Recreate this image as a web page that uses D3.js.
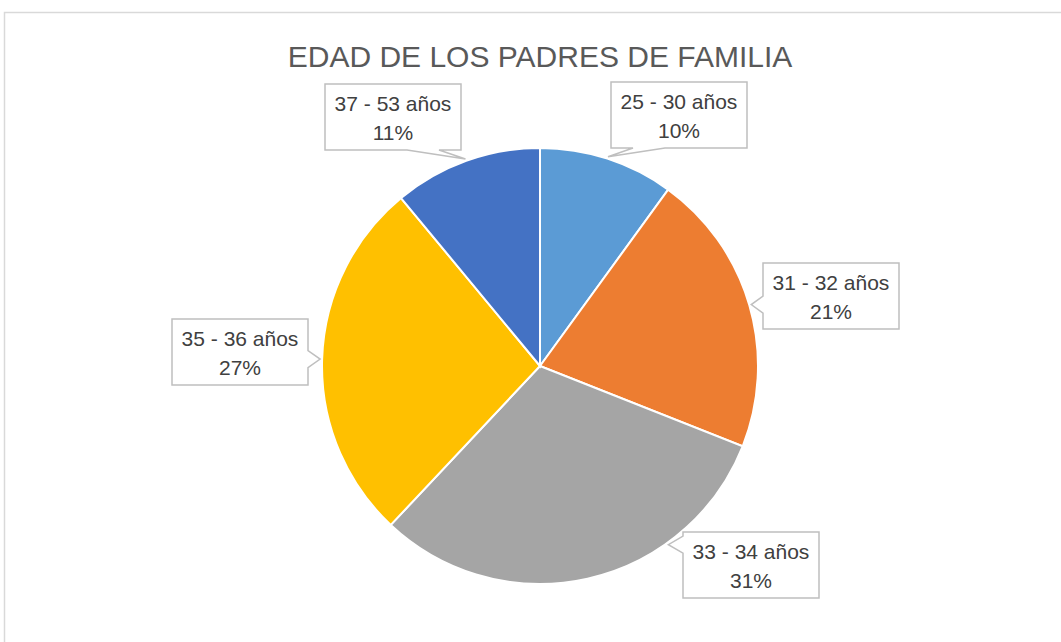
<!DOCTYPE html>
<html>
<head>
<meta charset="utf-8">
<script src="https://cdn.jsdelivr.net/npm/d3@7"></script>
<style>
  body { margin: 0; background: #fff; }
  svg { display: block; font-family: "Liberation Sans", Arial, sans-serif; }
</style>
</head>
<body>
<script>
const title = 'EDAD DE LOS PADRES DE FAMILIA';
const categories = ['25 - 30 años', '31 - 32 años', '33 - 34 años', '35 - 36 años', '37 - 53 años'];
const values = [10, 21, 31, 27, 11];
const colors = ['#5b9bd5', '#ed7d31', '#a5a5a5', '#ffc000', '#4472c4'];

// callout box centres (layout only)
const labelBoxes = [[679, 115], [831, 296], [751, 565], [240, 352], [393, 117]];

document.addEventListener('DOMContentLoaded', () => {
    const width = 1061;
    const height = 642;
    const cx = 540;
    const cy = 366;
    const radius = 218;
    const boxW = 136;
    const boxH = 66;

    const svg = d3.select('body')
                  .append('svg')
                  .attr('width', width)
                  .attr('height', height);

    // chart area border
    svg.append('rect')
       .attr('x', 4.5)
       .attr('y', 12.5)
       .attr('width', width + 20)
       .attr('height', height + 20)
       .attr('fill', 'none')
       .attr('stroke', '#d9d9d9')
       .attr('stroke-width', 1.5);

    svg.append('text')
       .attr('x', cx)
       .attr('y', 67)
       .attr('text-anchor', 'middle')
       .attr('font-size', 30)
       .attr('fill', '#595959')
       .text(title);

    const data = categories.map((c, i) => ({ cat: c, value: values[i], color: colors[i] }));
    const total = d3.sum(values);

    const pie = d3.pie().sort(null).value(d => d.value);
    const arc = d3.arc().innerRadius(0).outerRadius(radius);
    const arcs = pie(data);

    const g = svg.append('g').attr('transform', `translate(${cx},${cy})`);

    g.selectAll('path')
     .data(arcs)
     .enter()
     .append('path')
     .attr('d', arc)
     .attr('fill', d => d.data.color)
     .attr('stroke', '#fff')
     .attr('stroke-width', 2);

    // callout labels
    arcs.forEach((a, i) => {
        const [bx, by] = labelBoxes[i];
        const left = bx - boxW / 2, right = bx + boxW / 2;
        const top = by - boxH / 2, bottom = by + boxH / 2;

        const mid = (a.startAngle + a.endAngle) / 2;
        let [tx, ty] = d3.pointRadial(mid, radius + 2);
        tx += cx; ty += cy;

        // if the mid point is far from the box, aim at the nearest box edge instead
        const gap = Math.max(left - tx, tx - right, top - ty, ty - bottom);
        if (gap > 60) {
            let ex = bx, ey = by;
            if (tx < left) ex = left; else if (tx > right) ex = right;
            else if (ty < top) ey = top; else ey = bottom;
            const ang = Math.atan2(ex - cx, -(ey - cy));
            [tx, ty] = d3.pointRadial(ang, radius + 2);
            tx += cx; ty += cy;
        }

        const gaps = { left: left - tx, right: tx - right, top: top - ty, bottom: ty - bottom };
        const side = Object.keys(gaps).reduce((m, k) => gaps[k] > gaps[m] ? k : m, 'left');

        const p = d3.path();
        p.moveTo(left, top);
        if (side === 'top') {
            const [a0, a1] = horizBase(tx, left, right);
            p.lineTo(a0, top); p.lineTo(tx, ty); p.lineTo(a1, top);
        }
        p.lineTo(right, top);
        if (side === 'right') {
            const m = Math.max(top + 9, Math.min(bottom - 9, ty));
            p.lineTo(right, m - 8.5); p.lineTo(tx, ty); p.lineTo(right, m + 8.5);
        }
        p.lineTo(right, bottom);
        if (side === 'bottom') {
            const [a0, a1] = horizBase(tx, left, right);
            p.lineTo(a1, bottom); p.lineTo(tx, ty); p.lineTo(a0, bottom);
        }
        p.lineTo(left, bottom);
        if (side === 'left') {
            const m = Math.max(top + 9, Math.min(bottom - 9, ty));
            p.lineTo(left, m + 8.5); p.lineTo(tx, ty); p.lineTo(left, m - 8.5);
        }
        p.closePath();

        svg.append('path')
           .attr('d', p.toString())
           .attr('fill', '#fff')
           .attr('stroke', '#bfbfbf')
           .attr('stroke-width', 1.5)
           .attr('stroke-linejoin', 'miter');

        const pct = Math.round(a.data.value / total * 100) + '%';
        const t = svg.append('text')
                     .attr('text-anchor', 'middle')
                     .attr('font-size', 21)
                     .attr('fill', '#404040');
        t.append('tspan').attr('x', bx).attr('y', by - 6).text(a.data.cat);
        t.append('tspan').attr('x', bx).attr('y', by + 23).text(pct);
    });

    function horizBase(tx, left, right) {
        if (tx < left + 10) return [left + 22, left + 54];
        if (tx > right - 10) return [right - 54, right - 22];
        return [tx - 8.5, tx + 8.5];
    }
});
</script>
</body>
</html>
